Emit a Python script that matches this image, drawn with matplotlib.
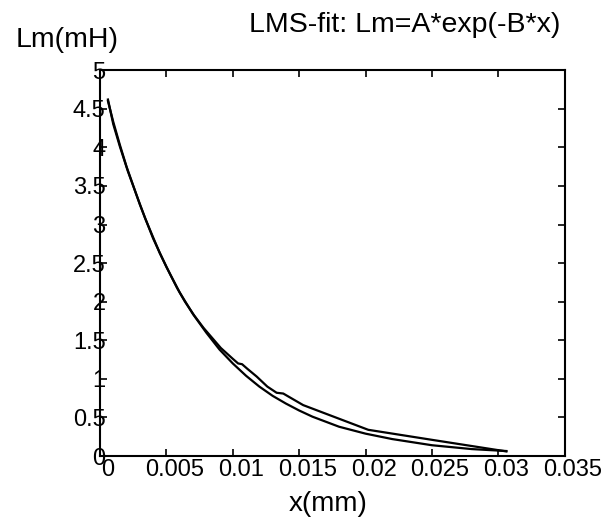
import matplotlib
matplotlib.use("Agg")
import matplotlib.pyplot as plt
import matplotlib.transforms as mtrans

plt.rcParams['font.family'] = ['Liberation Sans', 'DejaVu Sans']

x_meas = [0.0006, 0.0010, 0.0015, 0.0021, 0.0028, 0.0034, 0.0045, 0.0053,
          0.0058, 0.0064, 0.0071, 0.0078, 0.0091, 0.0100, 0.0104, 0.0107,
          0.0111, 0.0118, 0.0126, 0.0133, 0.0138, 0.0153, 0.0202, 0.0250,
          0.0306]
y_meas = [4.62, 4.30, 4.01, 3.69, 3.36, 3.08, 2.63, 2.35,
          2.18, 2.00, 1.82, 1.66, 1.40, 1.26, 1.20, 1.19,
          1.13, 1.03, 0.90, 0.82, 0.81, 0.66, 0.34, 0.21,
          0.06]

# LMS fit curve
x_fit = [0.0006, 0.0010, 0.0015, 0.0020, 0.0030, 0.0040, 0.0050, 0.0060,
         0.0070, 0.0080, 0.0090, 0.0100, 0.0110, 0.0120, 0.0130, 0.0140,
         0.0150, 0.0160, 0.0180, 0.0200, 0.0220, 0.0250, 0.0280, 0.0306]
y_fit = [4.60, 4.33, 4.03, 3.75, 3.26, 2.82, 2.45, 2.12,
         1.84, 1.60, 1.38, 1.20, 1.04, 0.90, 0.78, 0.68,
         0.59, 0.51, 0.38, 0.29, 0.22, 0.14, 0.09, 0.065]

xticks = [0, 0.005, 0.01, 0.015, 0.02, 0.025, 0.03, 0.035]
xlabels = ["0", "0.005", "0.01", "0.015", "0.02", "0.025", "0.03", "0.035"]
yticks = [0, 0.5, 1, 1.5, 2, 2.5, 3, 3.5, 4, 4.5, 5]
ylabels = ["0", "0.5", "1", "1.5", "2", "2.5", "3", "3.5", "4", "4.5", "5"]

fig = plt.figure(figsize=(6.06, 5.2), dpi=100)
ax = fig.add_axes([0.165, 0.123, 0.767, 0.742])

ax.plot(x_meas, y_meas, color="black", lw=1.6)
ax.plot(x_fit, y_fit, color="black", lw=1.6)

ax.set_xlim(0, 0.035)
ax.set_ylim(0, 5)
ax.set_xticks(xticks)
ax.set_xticklabels(xlabels)
ax.set_yticks(yticks)
ax.set_yticklabels(ylabels)
ax.tick_params(direction="in", top=True, right=True, length=5, width=1.2,
               labelsize=17, colors="black")
ax.tick_params(axis="y", pad=-4)
ax.tick_params(axis="x", pad=2)
for s in ax.spines.values():
    s.set_linewidth(1.5)

# labels in the scan sit a little right of their ticks
shift = mtrans.ScaledTranslation(8 / 100, 0, fig.dpi_scale_trans)
for lab in ax.get_xticklabels():
    lab.set_transform(lab.get_transform() + shift)

fig.text(0.924, 0.938, "LMS-fit: Lm=A*exp(-B*x)", ha="right", va="baseline",
         fontsize=20.5)
fig.text(0.025, 0.910, "Lm(mH)", ha="left", va="baseline", fontsize=20.5)
fig.text(0.542, 0.017, "x(mm)", ha="center", va="baseline", fontsize=20)

fig.savefig("out.png", dpi=100)
